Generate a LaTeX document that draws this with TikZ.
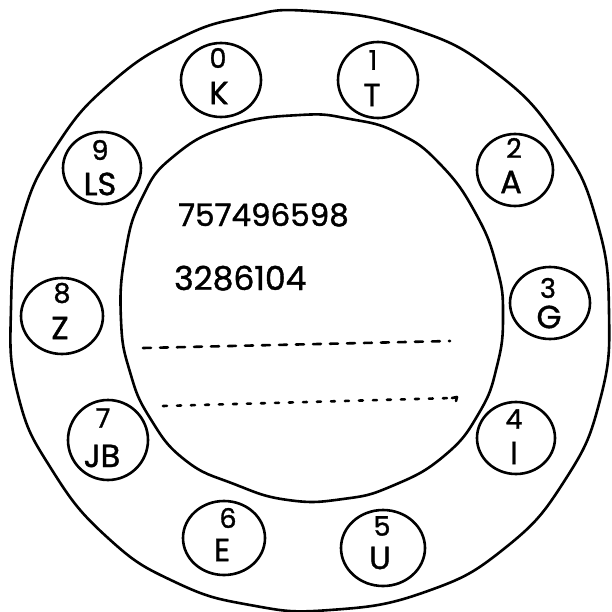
\documentclass[tikz,border=0pt]{standalone}
\usepackage{fontspec}
\setmainfont{Poppins}[FakeBold=1.2]
\usetikzlibrary{shapes.geometric}
\tikzset{
  ink/.style={line width=2.6pt, line cap=round, line join=round, black},
  hole/.style={ink, draw, ellipse, inner sep=0pt},
  dig/.style={font=\fontsize{27}{27}\selectfont, inner sep=0pt},
  let/.style={font=\fontsize{32}{32}\selectfont, inner sep=0pt},
  num/.style={font=\fontsize{31}{31}\selectfont, inner sep=0pt, anchor=base west},
  dashA/.style={ink, dash pattern=on 8pt off 9pt},
  dashB/.style={ink, dash pattern=on 4pt off 10pt},
}
\begin{document}
\begin{tikzpicture}[x=1pt,y=-1pt]
\useasboundingbox (0,0) rectangle (611,612);
% outer ring
\draw[ink] plot[smooth cycle, tension=0.8] coordinates {
 (310,11) (410,28) (495,72) (560,142) (597,222) (609,312) (600,400)
 (565,480) (505,548) (425,592) (330,610) (250,605) (175,582) (108,538)
 (52,470) (18,395) (11,308) (22,220) (57,145) (112,82) (180,38) (245,17)};
% inner blob
\draw[ink] plot[smooth cycle, tension=0.8] coordinates {
 (300,115) (350,119) (398,133) (440,164) (476,214) (497,268) (503,316)
 (497,366) (479,413) (444,456) (392,486) (343,499) (288,500) (234,484)
 (185,460) (150,418) (130,372) (121,320) (125,255) (142,198) (174,156) (230,126)};
% finger holes
\node[hole, minimum width=80pt, minimum height=74pt] (h0) at (221,80) {};
\node[hole, minimum width=80pt, minimum height=76pt] (h1) at (378,80) {};
\node[hole, minimum width=76pt, minimum height=72pt] (h2) at (515,170) {};
\node[hole, minimum width=80pt, minimum height=72pt] (h3) at (550,303) {};
\node[hole, minimum width=78pt, minimum height=72pt] (h4) at (516,438) {};
\node[hole, minimum width=84pt, minimum height=76pt] (h5) at (383,548) {};
\node[hole, minimum width=82pt, minimum height=74pt] (h6) at (224,538) {};
\node[hole, minimum width=80pt, minimum height=80pt] (h7) at (108,440) {};
\node[hole, minimum width=82pt, minimum height=76pt] (h8) at (62,316) {};
\node[hole, minimum width=78pt, minimum height=72pt] (h9) at (102,168) {};
% labels
\node[dig] (d0) at (218,58) {0};  \node[let] (l0) at (219,93) {K};
\node[dig] (d1) at (373,60) {1};  \node[let] (l1) at (372,95) {T};
\node[dig] (d2) at (514,148) {2}; \node[let] (l2) at (511,182) {A};
\node[dig] (d3) at (548,288) {3}; \node[let] (l3) at (549,317) {G};
\node[dig] (d4) at (514,419) {4}; \node[let] (l4) at (514,453) {I};
\node[dig] (d5) at (382,526) {5}; \node[let] (l5) at (380,558) {U};
\node[dig] (d6) at (228,518) {6}; \node[let] (l6) at (222,550) {E};
\node[dig] (d7) at (103,418) {7}; \node[let] (l7) at (102,456) {JB};
\node[dig] (d8) at (62,293) {8};  \node[let] (l8) at (60,328) {Z};
\node[dig] (d9) at (100,150) {9}; \node[let] (l9) at (100,184) {LS};
% numbers
\node[num] (n1) at (178,226) {757496598};
\node[num, font=\fontsize{33}{33}\selectfont] (n2) at (174,290) {3286104};
% dashed lines
\coordinate (a1) at (143,348);
\coordinate (a2) at (450,341);
\coordinate (b1) at (163,406);
\coordinate (b2) at (452,398);
\coordinate (b3) at (457,397);
\coordinate (b4) at (456,401);
\draw[dashA] (a1) -- (a2);
\draw[dashB] (b1) -- (b2);
\draw[ink] (b2) -- (b3) -- (b4);
\end{tikzpicture}
\end{document}
